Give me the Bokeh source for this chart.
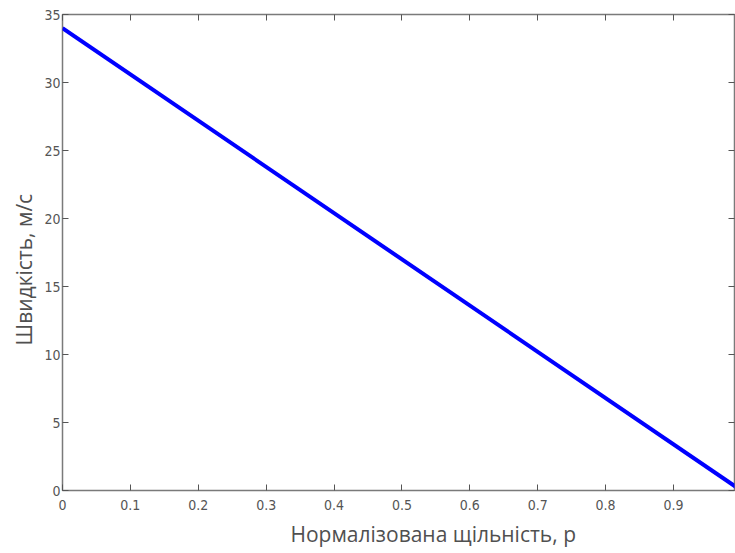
from bokeh.plotting import figure
from bokeh.models import Range1d, LinearAxis, FixedTicker, Title
from bokeh.embed import file_html
from bokeh.resources import INLINE

# data
density = [0.0, 1.0]
speed = [34.0, 0.0]
x_ticks = [0, 0.1, 0.2, 0.3, 0.4, 0.5, 0.6, 0.7, 0.8, 0.9, 1.0]
y_ticks = [0, 5, 10, 15, 20, 25, 30, 35]
x_label = "Нормалізована щільність, р"
y_label = "Швидкість, м/с"

W, H = 735, 553
p = figure(width=W, height=H, output_backend="svg", toolbar_location=None,
           x_range=Range1d(0, 0.99), y_range=Range1d(0, 35),
           min_border_left=62, min_border_right=1, min_border_top=14, min_border_bottom=63,
           x_axis_location=None, y_axis_location=None)
p.grid.visible = False
p.outline_line_color = "#7a7a7a"
p.outline_line_width = 1.5
p.background_fill_color = "white"
p.border_fill_color = "white"

tick_font = "Liberation Sans Narrow, DejaVu Sans Condensed, sans-serif"

def style(ax, show_labels, standoff):
    ax.axis_line_color = None
    ax.major_tick_in = 6
    ax.major_tick_out = 0
    ax.minor_tick_line_color = None
    ax.major_tick_line_color = "#555555"
    ax.major_tick_line_width = 1
    ax.major_label_text_font = tick_font
    ax.major_label_text_font_size = "14px"
    ax.major_label_text_color = "#555555"
    ax.major_label_standoff = standoff
    if not show_labels:
        ax.major_label_text_alpha = 0
        ax.major_label_text_font_size = "1px"

xb = LinearAxis(ticker=FixedTicker(ticks=x_ticks))
style(xb, True, 9)
p.add_layout(xb, "below")
xt = LinearAxis(ticker=FixedTicker(ticks=x_ticks))
style(xt, False, 0)
p.add_layout(xt, "above")
yl = LinearAxis(ticker=FixedTicker(ticks=y_ticks))
style(yl, True, 2)
p.add_layout(yl, "left")
yr = LinearAxis(ticker=FixedTicker(ticks=y_ticks))
style(yr, False, 0)
p.add_layout(yr, "right")

p.line(density, speed, line_color="#0000ff", line_width=4)

tx = Title(text=x_label, align="left", offset=228, standoff=11,
           text_font="Open Sans", text_font_size="21px", text_font_style="normal",
           text_color="#505050")
p.add_layout(tx, "below")
ty = Title(text=y_label, align="left", offset=145, standoff=8,
           text_font="Open Sans", text_font_size="21px", text_font_style="normal",
           text_color="#505050")
p.add_layout(ty, "left")

open("out.html", "w").write(file_html(p, INLINE))
